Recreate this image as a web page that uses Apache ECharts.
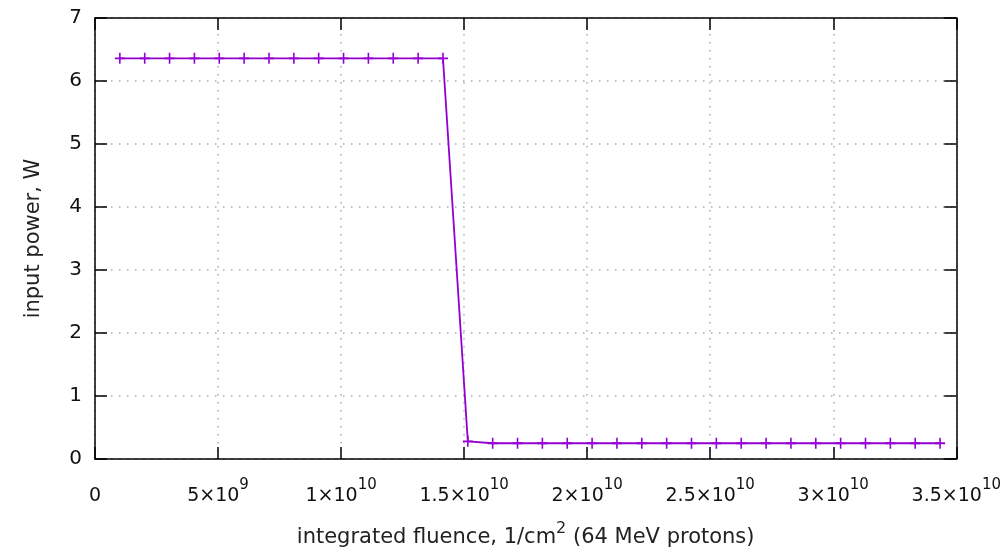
<!DOCTYPE html>
<html lang="en">
<head>
    <meta charset="UTF-8">
    <title>input power vs fluence</title>
    <script src="https://cdn.jsdelivr.net/npm/echarts@6/dist/echarts.min.js"></script>
    <style>
        html, body {margin: 0; padding: 0; background: #fff;}
        #main {width: 1004px; height: 553px;}
    </style>
</head>
<body>
<div id="main"></div>
<script>
    // fluence values (1/cm2) and measured input power (W)
    var fluence = [
        1.01e9, 2.02e9, 3.03e9, 4.04e9, 5.05e9, 6.06e9, 7.07e9, 8.08e9, 9.09e9, 10.10e9,
        11.11e9, 12.12e9, 13.13e9, 14.14e9, 15.15e9, 16.16e9, 17.17e9, 18.18e9, 19.19e9, 20.20e9,
        21.21e9, 22.22e9, 23.23e9, 24.24e9, 25.25e9, 26.26e9, 27.27e9, 28.28e9, 29.29e9, 30.30e9,
        31.31e9, 32.32e9, 33.33e9, 34.34e9
    ];
    var power = [
        6.36, 6.36, 6.36, 6.36, 6.36, 6.36, 6.36, 6.36, 6.36, 6.36,
        6.36, 6.36, 6.36, 6.36, 0.28, 0.25, 0.25, 0.25, 0.25, 0.25,
        0.25, 0.25, 0.25, 0.25, 0.25, 0.25, 0.25, 0.25, 0.25, 0.25,
        0.25, 0.25, 0.25, 0.25
    ];
    // x tick labels: mantissa and power of ten
    var xTickMant = ['0', '5', '1', '1.5', '2', '2.5', '3', '3.5'];
    var xTickExp = ['', '9', '10', '10', '10', '10', '10', '10'];

    var font = 'DejaVu Sans';
    var pts = fluence.map(function (x, i) {
        return [x, power[i]];
    });

    var myChart = echarts.init(document.getElementById('main'));
    function mirrorAxis(extra) {
        return Object.assign({
            type: 'value',
            gridIndex: 0,
            axisLine: {show: true, onZero: false, lineStyle: {color: '#000', width: 1.5}},
            axisTick: {show: true, inside: true, length: 12, lineStyle: {color: '#000', width: 1.5}},
            axisLabel: {show: false},
            splitLine: {show: false}
        }, extra);
    }
    var option = {
        animation: false,
        backgroundColor: '#fff',
        grid: {left: 95, right: 43, top: 18, bottom: 89},
        xAxis: [{
            type: 'value',
            position: 'bottom',
            min: 0,
            max: 3.5e10,
            interval: 5e9,
            name: '{t|integrated fluence, 1/cm}{s|2}{t| (64 MeV protons)}',
            nameLocation: 'middle',
            nameGap: 62,
            nameTextStyle: {
                rich: {
                    t: {fontFamily: font, fontSize: 21, color: '#222', lineHeight: 27, verticalAlign: 'bottom'},
                    s: {fontFamily: font, fontSize: 16, color: '#222', lineHeight: 27, verticalAlign: 'top'}
                }
            },
            axisLine: {onZero: false, lineStyle: {color: '#000', width: 1.5}},
            axisTick: {inside: true, length: 12, lineStyle: {color: '#000', width: 1.5}},
            axisLabel: {
                margin: 19,
                formatter: function (v) {
                    var i = Math.round(v / 5e9);
                    if (!xTickExp[i]) return '{t|' + xTickMant[i] + '}';
                    return '{t|' + xTickMant[i] + '×10}{s|' + xTickExp[i] + '}';
                },
                rich: {
                    t: {fontFamily: font, fontSize: 19, color: '#111', lineHeight: 28, verticalAlign: 'bottom'},
                    s: {fontFamily: font, fontSize: 15, color: '#111', lineHeight: 28, verticalAlign: 'top'}
                }
            },
            splitLine: {show: true, lineStyle: {color: '#aaa', width: 1.5, type: [1.5, 6.5]}}
        }, mirrorAxis({position: 'top', min: 0, max: 3.5e10, interval: 5e9})],
        yAxis: [{
            type: 'value',
            position: 'left',
            min: 0,
            max: 7,
            interval: 1,
            name: 'input power, W',
            nameLocation: 'middle',
            nameGap: 51,
            nameTextStyle: {fontFamily: font, fontSize: 21, color: '#222'},
            axisLine: {onZero: false, lineStyle: {color: '#000', width: 1.5}},
            axisTick: {inside: true, length: 12, lineStyle: {color: '#000', width: 1.5}},
            axisLabel: {margin: 13, fontFamily: font, fontSize: 20, color: '#111'},
            splitLine: {show: true, lineStyle: {color: '#aaa', width: 1.5, type: [1.5, 6.5]}}
        }, mirrorAxis({position: 'right', min: 0, max: 7, interval: 1})],
        series: [{
            type: 'line',
            data: pts,
            symbol: 'path://M4.2,0h1.6v10h-1.6z M0,4.2h10v1.6h-10z',
            symbolSize: [10, 11],
            showAllSymbol: true,
            itemStyle: {color: '#9400d3'},
            lineStyle: {color: '#9400d3', width: 1.8},
            z: 3
        }]
    };
    myChart.setOption(option);
</script>
</body>
</html>
